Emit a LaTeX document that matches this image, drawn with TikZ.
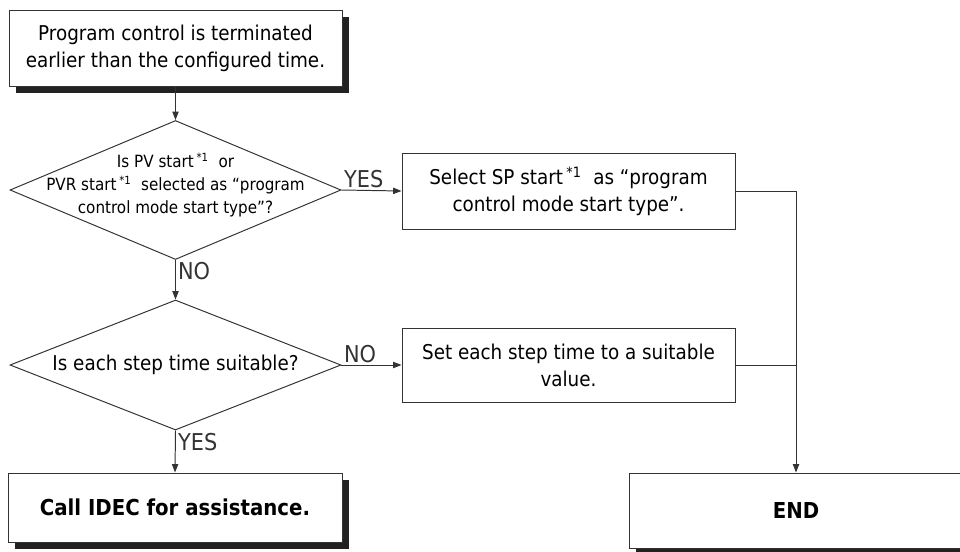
\documentclass[tikz,border=0pt]{standalone}
\usepackage{fontspec}
\setmainfont{DejaVu Sans Condensed}
\usetikzlibrary{arrows.meta, positioning, shapes.geometric, shadows}
\definecolor{ink}{HTML}{333333}
\definecolor{shade}{HTML}{222222}

\begin{document}
\begin{tikzpicture}[
  procbox/.style = {draw=ink, line width=0.7pt, fill=white, minimum width=8.325cm, minimum height=1.9cm, inner sep=0pt, align=center, font=\fontsize{14.5}{19.2}\selectfont},
  shadowbox/.style = {procbox, drop shadow={shadow xshift=0.18cm, shadow yshift=-0.18cm, fill=shade, opacity=1}},
  boldtext/.style = {font=\fontsize{15.6}{19.2}\selectfont\bfseries},
  decision/.style = {diamond, draw=ink, line width=0.7pt, minimum width=8.275cm, minimum height=3.475cm, inner sep=0pt},
  qtext/.style = {align=center, inner sep=0pt},
  arr/.style = {-{Triangle[length=6pt,width=4.5pt]}, line width=0.7pt, color=ink},
  line/.style = {line width=0.7pt, color=ink},
  lbl/.style = {font=\fontsize{16.5}{16.5}\selectfont, inner sep=1.5pt},
]
\useasboundingbox (0,0) rectangle (24,-13.775);
% left column
\node[shadowbox] (start) at (4.3875, -1.2) {Program control is terminated\\earlier than the configured time.};
\node[decision] (q1) at (4.3875, -4.75) {};
\node[qtext, font=\fontsize{12}{16.4}\selectfont] (q1txt) at (4.3875, -4.62)
  {Is PV start\,\textsuperscript{*1}\ \ or\\PVR start\,\textsuperscript{*1}\ \ selected as “program\\control mode start type”?};
\node[decision, minimum height=3.25cm] (q2) at (4.3875, -9.125) {};
\node[qtext, font=\fontsize{14.5}{19.2}\selectfont] (q2txt) at (4.3875, -9.125) {Is each step time suitable?};
\node[shadowbox, boldtext, minimum width=8.35cm, minimum height=1.725cm] (idec) at (4.375, -12.6875) {Call IDEC for assistance.};
% right column
\node[procbox] (spstart) at (14.2125, -4.775) {Select SP start\,\textsuperscript{*1}\ \ as “program\\control mode start type”.};
\node[procbox, minimum height=1.85cm] (steptime) at (14.2125, -9.125) {Set each step time to a suitable\\value.};
\node[shadowbox, boldtext, minimum width=8.35cm, minimum height=1.875cm] (end) at (19.9, -12.7625) {END};
\coordinate (corner) at (end.north |- spstart.east);
% connectors
\draw[arr] (start.south) -- (q1.north);
\draw[arr] (q1.east) -- node[lbl, anchor=south west, pos=0] {YES} (spstart.west);
\draw[arr] (q1.south) -- node[lbl, anchor=north west, pos=0] {NO} (q2.north);
\draw[arr] (q2.east) -- node[lbl, anchor=south west, pos=0] {NO} (steptime.west);
\draw[arr] (q2.south) -- node[lbl, anchor=north west, pos=0] {YES} (idec.north);
\draw[line] (spstart.east) -- (corner);
\draw[arr] (corner) -- (end.north);
\draw[line] (steptime.east) -- (steptime.east -| corner);
\end{tikzpicture}
\end{document}
